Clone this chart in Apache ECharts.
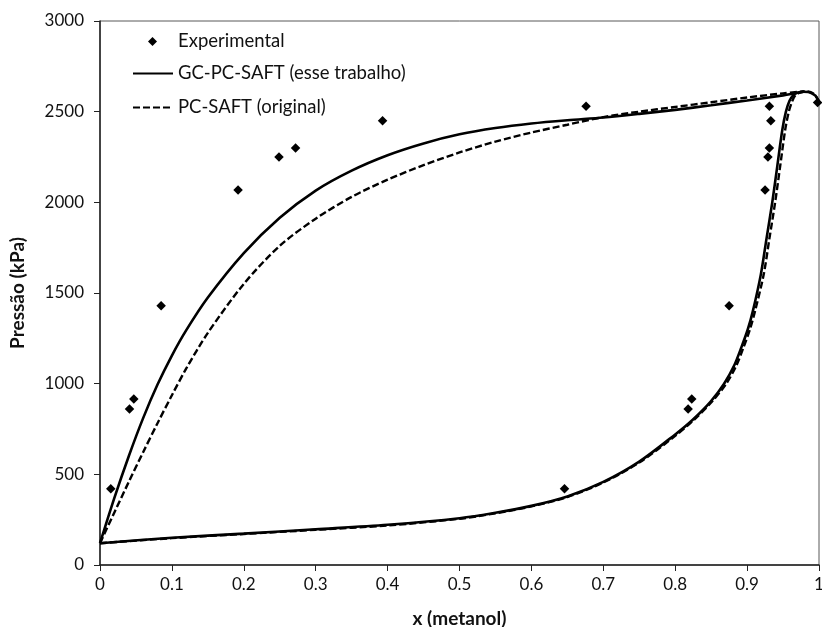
<!DOCTYPE html>
<html>
<head>
<meta charset="utf-8">
<script src="https://cdn.jsdelivr.net/npm/echarts@6/dist/echarts.min.js"></script>
<style>
html,body{margin:0;padding:0;background:#fff;}
#chart{width:822px;height:627px;}
</style>
</head>
<body>
<div id="chart"></div>
<script>
// ---- Data ----
var expX = [0.015, 0.041, 0.047, 0.085, 0.192, 0.249, 0.272, 0.393, 0.676, 0.646, 0.818, 0.823, 0.875, 0.925, 0.929, 0.931, 0.933, 0.931, 0.998];
var expP = [420, 860, 915, 1430, 2068, 2250, 2300, 2450, 2530, 420, 860, 915, 1430, 2068, 2250, 2300, 2450, 2530, 2550];

// GC-PC-SAFT (esse trabalho) - bubble branch (upper)
var gcBubbleX = [0, 0.02, 0.04, 0.06, 0.08, 0.10, 0.12, 0.15, 0.20, 0.25, 0.30, 0.35, 0.40, 0.45, 0.50, 0.55, 0.60, 0.65, 0.70, 0.75, 0.80, 0.85, 0.90, 0.95, 0.978];
var gcBubbleP = [120, 370, 600, 810, 995, 1155, 1295, 1475, 1720, 1915, 2065, 2175, 2260, 2325, 2375, 2410, 2435, 2453, 2468, 2488, 2510, 2535, 2562, 2590, 2608];
// GC-PC-SAFT - dew branch (lower)
var gcDewX = [0, 0.10, 0.20, 0.30, 0.40, 0.50, 0.55, 0.60, 0.65, 0.70, 0.75, 0.80, 0.824, 0.849, 0.868, 0.882, 0.892, 0.901, 0.908, 0.919, 0.927, 0.935, 0.942, 0.949, 0.954, 0.959, 0.964, 0.970, 0.978, 0.985, 0.990, 0.995, 1.0];
var gcDewP = [120, 150, 173, 197, 222, 258, 288, 326, 378, 458, 570, 720, 800, 900, 1000, 1100, 1200, 1300, 1400, 1600, 1800, 2000, 2200, 2400, 2500, 2560, 2590, 2605, 2610, 2608, 2601, 2588, 2555];

// PC-SAFT (original) - bubble branch (upper)
var pcBubbleX = [0, 0.02, 0.04, 0.06, 0.08, 0.10, 0.12, 0.15, 0.20, 0.25, 0.30, 0.35, 0.40, 0.45, 0.50, 0.55, 0.60, 0.65, 0.70, 0.75, 0.80, 0.85, 0.90, 0.95, 0.98];
var pcBubbleP = [120, 290, 458, 622, 782, 936, 1084, 1280, 1550, 1760, 1910, 2030, 2125, 2205, 2275, 2335, 2385, 2428, 2470, 2500, 2526, 2552, 2578, 2601, 2612];
// PC-SAFT - dew branch (lower)
var pcDewX = [0, 0.10, 0.20, 0.30, 0.40, 0.50, 0.55, 0.60, 0.65, 0.70, 0.75, 0.80, 0.826, 0.851, 0.871, 0.885, 0.895, 0.904, 0.911, 0.923, 0.931, 0.939, 0.946, 0.953, 0.958, 0.963, 0.967, 0.974, 0.980, 0.986, 0.991, 0.995, 1.0];
var pcDewP = [120, 148, 171, 194, 218, 255, 285, 323, 375, 455, 565, 712, 800, 900, 1000, 1100, 1200, 1300, 1400, 1600, 1800, 2000, 2200, 2400, 2500, 2560, 2590, 2606, 2612, 2610, 2602, 2590, 2555];

var xTicks = [0, 0.1, 0.2, 0.3, 0.4, 0.5, 0.6, 0.7, 0.8, 0.9, 1];
var yTicks = [0, 500, 1000, 1500, 2000, 2500, 3000];

var NAME_EXP = 'Experimental';
var NAME_GC = 'GC-PC-SAFT (esse trabalho)';
var NAME_PC = 'PC-SAFT (original)';

function zip(a, b) { return a.map(function (v, i) { return [v, b[i]]; }); }

var FONT = 'Lato';
var FS_TICK = 17;
var FS_LEG = 18.5;
var FS_TITLE = 19;
var chart = echarts.init(document.getElementById('chart'), null, { renderer: 'canvas' });

var solidStyle = { color: '#000', width: 2.6, type: 'solid' };
var dashStyle = { color: '#000', width: 2.4, type: [7, 3] };
var legText = { fontFamily: FONT, fontSize: FS_LEG, color: '#111' };

var option = {
  backgroundColor: '#fff',
  animation: false,
  textStyle: { fontFamily: FONT },
  grid: { left: 100, right: 3, top: 21, bottom: 62, show: true, borderColor: '#595959', borderWidth: 1,
    outerBoundsMode: 'none', containLabel: false },
  legend: [
    { data: [NAME_EXP], left: 148, top: 32, padding: 0, orient: 'vertical', itemWidth: 9, itemHeight: 9,
      textStyle: Object.assign({ padding: [0, 0, 0, 16] }, legText) },
    { data: [NAME_GC], left: 132, top: 64, padding: 0, orient: 'vertical', itemWidth: 40, itemHeight: 14,
      itemStyle: { opacity: 0 }, textStyle: legText },
    { data: [NAME_PC], left: 132, top: 98, padding: 0, orient: 'vertical', itemWidth: 40, itemHeight: 14,
      itemStyle: { opacity: 0 }, textStyle: legText }
  ],
  xAxis: {
    type: 'value', min: 0, max: 1, interval: 0.1,
    name: 'x (metanol)', nameLocation: 'middle', nameGap: 44,
    nameTextStyle: { fontFamily: FONT, fontSize: FS_TITLE, fontWeight: 'bold', color: '#111' },
    axisLine: { show: true, lineStyle: { color: '#222', width: 1.5 } },
    axisTick: { show: true, inside: false, length: 6, lineStyle: { color: '#222' } },
    axisLabel: { margin: 11, fontFamily: FONT, fontSize: FS_TICK, color: '#111',
      formatter: function (v) { return String(Math.round(v * 10) / 10); } },
    splitLine: { show: false }
  },
  yAxis: {
    type: 'value', min: 0, max: 3000, interval: 500,
    name: 'Pressão (kPa)', nameLocation: 'middle', nameGap: 73,
    nameTextStyle: { fontFamily: FONT, fontSize: FS_TITLE, fontWeight: 'bold', color: '#111' },
    axisLine: { show: true, lineStyle: { color: '#222', width: 1.5 } },
    axisTick: { show: true, inside: false, length: 6, lineStyle: { color: '#222' } },
    axisLabel: { margin: 16, fontFamily: FONT, fontSize: FS_TICK, color: '#111',
      formatter: function (v) { return String(v); } },
    splitLine: { show: false }
  },
  series: [
    { name: NAME_GC, type: 'line', data: zip(gcBubbleX, gcBubbleP), symbol: 'none', smooth: 0.3, lineStyle: solidStyle, itemStyle: { color: '#000' }, z: 3 },
    { name: NAME_GC, type: 'line', data: zip(gcDewX, gcDewP), symbol: 'none', smooth: 0.3, lineStyle: solidStyle, itemStyle: { color: '#000' }, z: 3 },
    { name: NAME_PC, type: 'line', data: zip(pcBubbleX, pcBubbleP), symbol: 'none', smooth: 0.3, lineStyle: dashStyle, itemStyle: { color: '#000' }, z: 2 },
    { name: NAME_PC, type: 'line', data: zip(pcDewX, pcDewP), symbol: 'none', smooth: 0.3, lineStyle: dashStyle, itemStyle: { color: '#000' }, z: 2 },
    { name: NAME_EXP, type: 'scatter', data: zip(expX, expP), symbol: 'diamond', symbolSize: 9.5, itemStyle: { color: '#000', opacity: 1 }, z: 4 }
  ]
};
chart.setOption(option);
</script>
</body>
</html>
